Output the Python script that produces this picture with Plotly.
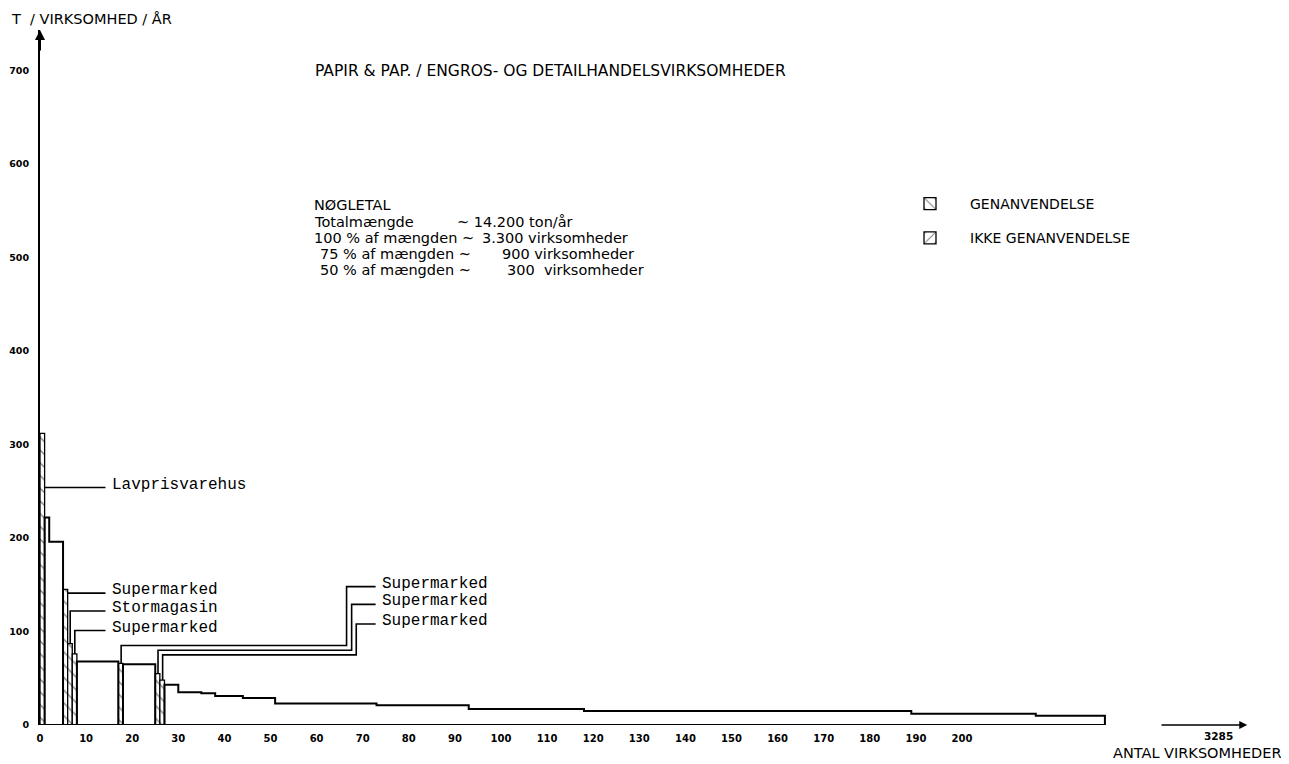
import plotly.graph_objects as go

# ---------------- data ----------------
# unnamed companies: stepped outline (rank interval start/end, tonnes per company)
step_start = [1, 2, 8, 18, 27, 30, 35, 38, 44, 51, 73, 93, 118, 189, 216]
step_end = [2, 5, 17, 25, 30, 35, 38, 44, 51, 73, 93, 118, 189, 216, 231]
step_value = [222, 196, 68, 65, 43, 35, 34, 31, 29, 23, 21, 17, 15, 12, 10]

# named (hatched) companies: rank and tonnes per company
bar_rank = [1, 6, 7, 8, 18, 26, 27]
bar_value = [312, 145, 87, 76, 66, 55, 48]
bar_label = ["Lavprisvarehus", "Supermarked", "Stormagasin", "Supermarked",
             "Supermarked", "Supermarked", "Supermarked"]

x_ticks = list(range(0, 201, 10))
y_ticks = list(range(0, 701, 100))
total_firms = "3285"

title_text = "PAPIR & PAP. / ENGROS- OG DETAILHANDELSVIRKSOMHEDER"
y_title = "T  / VIRKSOMHED / ÅR"
x_title = "ANTAL VIRKSOMHEDER"
key_left = ["NØGLETAL", "Totalmængde", "100 % af mængden ~", " 75 % af mængden ~", " 50 % af mængden ~"]
key_right = ["", "~ 14.200 ton/år", "3.300 virksomheder", "900 virksomheder", "300  virksomheder"]
legend_names = ["GENANVENDELSE", "IKKE GENANVENDELSE"]

# ---------------- label layout (positions, not data) ----------------
label_y = [254, 141, 122, 101, 148, 129, 108]
elbow_x = [None, None, None, None, 66.5, 67.6, 68.6]
elbow_y = [None, None, None, None, 85, 80, 75]
leader_end_x = [14.2, 14.2, 14.2, 14.2, 72.8, 72.8, 72.8]

# the page body adds an ~8px offset, so the figure is laid out in shifted pixels
OFF = 8
W, H = 1289 - OFF, 764 - OFF
ML, MT = 40 - OFF, 30 - OFF
PLOT_R, PLOT_B = 1250 - OFF, 725 - OFF
MR, MB = W - PLOT_R, H - PLOT_B
PW, PH = W - ML - MR, H - MT - MB
X_RANGE = [0, PW / 4.61]
Y_RANGE = [0, PH / 0.935]


def px(x):
    return (x - OFF - ML) / PW


def py(y):
    return 1 - (y - OFF - MT) / PH


# ---------------- build stepped outline ----------------
sx, sy = [], []
n = len(step_start)
for i in range(n):
    if i == 0 or step_start[i] != step_end[i - 1]:
        sx.append(step_start[i]); sy.append(0)
    sx += [step_start[i], step_end[i]]
    sy += [step_value[i], step_value[i]]
    if i == n - 1 or step_start[i + 1] != step_end[i]:
        sx += [step_end[i], None]
        sy += [0, None]

# ---------------- leader lines ----------------
lx, ly = [], []
for k, r in enumerate(bar_rank):
    v, yy = bar_value[k], label_y[k]
    if elbow_x[k] is None:
        if v >= yy:
            pts = [(r, yy), (leader_end_x[k], yy)]
        else:
            pts = [(r - 0.45, v), (r - 0.45, yy), (leader_end_x[k], yy)]
    else:
        pts = [(r - 0.4, v), (r - 0.4, elbow_y[k]), (elbow_x[k], elbow_y[k]),
               (elbow_x[k], yy), (leader_end_x[k], yy)]
    for p in pts:
        lx.append(p[0]); ly.append(p[1])
    lx.append(None); ly.append(None)

fig = go.Figure()

fig.add_trace(go.Scatter(x=sx, y=sy, mode="lines", line=dict(color="black", width=2),
                         showlegend=False, hoverinfo="skip"))

fig.add_trace(go.Bar(
    x=[r - 0.5 for r in bar_rank], y=bar_value, width=1,
    name=legend_names[0], legendgroup="g1",
    marker=dict(color="white", line=dict(color="black", width=1.3),
                pattern=dict(shape="\\", fgcolor="black", bgcolor="white", size=9, solidity=0.15)),
))
fig.add_trace(go.Bar(
    x=[None], y=[None], width=1,
    name=legend_names[1], legendgroup="g2",
    marker=dict(color="white", line=dict(color="black", width=1.3),
                pattern=dict(shape="/", fgcolor="black", bgcolor="white", size=9, solidity=0.15)),
))

fig.add_trace(go.Scatter(x=lx, y=ly, mode="lines", line=dict(color="black", width=1.6),
                         showlegend=False, hoverinfo="skip"))

ann = []
mono = dict(family="Liberation Mono", size=16, color="black")
for k, t in enumerate(bar_label):
    ann.append(dict(x=leader_end_x[k] + 0.9, y=label_y[k], xref="x", yref="y", text=t,
                    showarrow=False, xanchor="left", yanchor="middle", yshift=3, font=mono))

sans = "DejaVu Sans"
ann.append(dict(x=px(313), y=py(71), xref="paper", yref="paper", text=title_text,
                showarrow=False, xanchor="left", yanchor="middle",
                font=dict(family=sans, size=15.5, color="black")))
ann.append(dict(x=px(9), y=py(19), xref="paper", yref="paper", text=y_title,
                showarrow=False, xanchor="left", yanchor="middle",
                font=dict(family=sans, size=14.5, color="black")))
ann.append(dict(x=px(1197), y=py(753), xref="paper", yref="paper", text=x_title,
                showarrow=False, xanchor="center", yanchor="middle",
                font=dict(family=sans, size=14.5, color="black")))

key_y = [205, 222, 238, 254, 270]
key_lx = [312, 312, 312, 318, 318]
key_rx = [0, 455, 480, 500, 505]
for i in range(len(key_left)):
    ann.append(dict(x=px(key_lx[i]), y=py(key_y[i]), xref="paper", yref="paper",
                    text=key_left[i].strip(), showarrow=False, xanchor="left", yanchor="middle",
                    font=dict(family=sans, size=14.5, color="black")))
    if key_right[i]:
        ann.append(dict(x=px(key_rx[i]), y=py(key_y[i]), xref="paper", yref="paper",
                        text=key_right[i].replace("  ", "&nbsp;&nbsp;"), showarrow=False,
                        xanchor="left", yanchor="middle",
                        font=dict(family=sans, size=14.5, color="black")))

# break arrow with total number of firms
ann.append(dict(x=X_RANGE[1] - 0.6, y=0, ax=(1160 - OFF - ML) / 4.61, ay=0, xref="x", yref="y",
                axref="x", ayref="y", text="", showarrow=True, arrowhead=2, arrowsize=1,
                arrowwidth=1.6, arrowcolor="black"))
ann.append(dict(x=(1218 - OFF - ML) / 4.61, y=0, xref="x", yref="y", text="<b>" + total_firms + "</b>",
                showarrow=False, xanchor="center", yanchor="top", yshift=-3,
                font=dict(family=sans, size=10.5, color="black")))
# arrow head on top of y axis
ann.append(dict(x=0, y=Y_RANGE[1], xref="x", yref="y", ax=0, ay=22, text="", showarrow=True,
                arrowhead=2, arrowsize=1, arrowwidth=2, arrowcolor="black"))

fig.update_layout(
    width=W, height=H,
    margin=dict(l=ML, r=MR, t=MT, b=MB, autoexpand=False),
    paper_bgcolor="white", plot_bgcolor="white",
    barmode="overlay",
    showlegend=True,
    legend=dict(x=px(890), y=py(188), xanchor="left", yanchor="top",
                traceorder="grouped", tracegroupgap=13, itemwidth=70,
                font=dict(family=sans, size=14, color="black"),
                bgcolor="rgba(0,0,0,0)"),
    annotations=ann,
    shapes=[dict(type="line", xref="x", yref="y", x0=0, x1=max(step_end), y0=0, y1=0,
                 line=dict(color="black", width=2))],
    xaxis=dict(range=X_RANGE, showline=False, showgrid=False, zeroline=False, automargin=False,
               tickmode="array", tickvals=x_ticks, ticks="", ticklabelstandoff=6,
               tickfont=dict(family=sans, size=10, color="black", weight="bold")),
    yaxis=dict(range=Y_RANGE, showline=True, linecolor="black", linewidth=2, automargin=False,
               showgrid=False, zeroline=False, tickmode="array", tickvals=y_ticks,
               ticks="", ticklabelstandoff=7,
               tickfont=dict(family=sans, size=9.5, color="black", weight="bold")),
)

fig.write_html("out.html")
